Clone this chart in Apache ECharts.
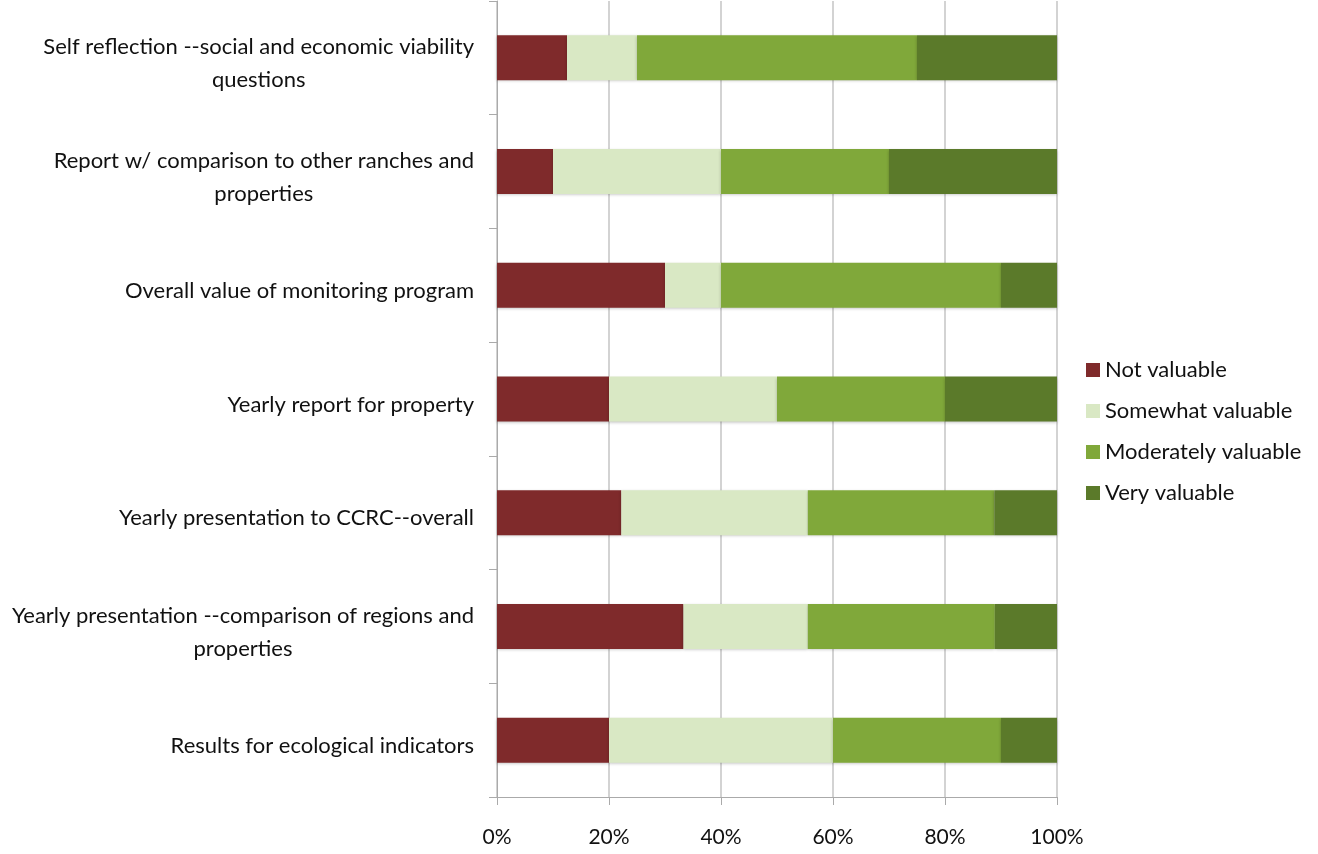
<!DOCTYPE html>
<html>
<head>
<meta charset="utf-8">
<script src="https://cdn.jsdelivr.net/npm/echarts@6/dist/echarts.min.js"></script>
<style>html,body{margin:0;padding:0;background:#fff}#c{width:1318px;height:854px}</style>
</head>
<body>
<div id="c"></div>
<script>
const categories = [
  'Self reflection --social and economic viability\nquestions',
  'Report w/ comparison to other ranches and\nproperties',
  'Overall value of monitoring program',
  'Yearly report for property',
  'Yearly presentation to CCRC--overall',
  'Yearly presentation --comparison of regions and\nproperties',
  'Results for ecological indicators'
];
const seriesNames = ['Not valuable', 'Somewhat valuable', 'Moderately valuable', 'Very valuable'];
const notValuable = [12.5, 10, 30, 20, 22.2, 33.3, 20];
const somewhatValuable = [12.5, 30, 10, 30, 33.3, 22.2, 40];
const moderatelyValuable = [50, 30, 50, 30, 33.3, 33.4, 30];
const veryValuable = [25, 30, 10, 20, 11.2, 11.1, 10];
const xTicks = [0, 20, 40, 60, 80, 100];
const colors = ['#7f2a2b', '#d9e8c4', '#80a83a', '#5b7a2a'];

const values = [notValuable, somewhatValuable, moderatelyValuable, veryValuable];
const FONT = 'Lato';
const chart = echarts.init(document.getElementById('c'));
chart.setOption({
  animation: false,
  textStyle: { fontFamily: FONT },
  grid: { left: 497, right: 261, top: 1, bottom: 57, containLabel: false },
  legend: {
    orient: 'vertical',
    left: 1086,
    top: 359,
    padding: 0,
    itemWidth: 14,
    itemHeight: 14,
    itemGap: 19,
    icon: 'rect',
    textStyle: { fontSize: 22, color: '#111', fontFamily: FONT },
    data: seriesNames
  },
  xAxis: {
    type: 'value',
    min: 0, max: 100, interval: 20,
    axisLine: { show: true, lineStyle: { color: '#aaa' } },
    axisTick: { show: true, length: 8, lineStyle: { color: '#aaa' } },
    splitLine: { show: true, lineStyle: { color: '#c4c4c4', width: 1.5 } },
    axisLabel: { formatter: v => v + '%', fontSize: 21, color: '#111', margin: 30, fontFamily: FONT }
  },
  yAxis: {
    type: 'category',
    inverse: true,
    data: categories,
    axisLine: { show: true, lineStyle: { color: '#aaa' } },
    axisTick: { show: true, length: 8, lineStyle: { color: '#aaa' } },
    axisLabel: {
      fontSize: 22, color: '#111', margin: 23, lineHeight: 33, fontFamily: FONT,
      padding: [11, 0, 0, 0],
      formatter: v => v.split('\n').map(s => '{c|' + s + '}').join('\n'),
      rich: { c: { align: 'center', fontSize: 22, lineHeight: 33, color: '#111', fontFamily: FONT } }
    }
  },
  series: seriesNames.map((n, i) => ({
    name: n,
    type: 'bar',
    stack: 'total',
    barWidth: 45,
    data: values[i],
    itemStyle: { color: colors[i], shadowColor: 'rgba(0,0,0,0.25)', shadowBlur: 3, shadowOffsetY: 1 }
  }))
});
</script>
</body>
</html>
